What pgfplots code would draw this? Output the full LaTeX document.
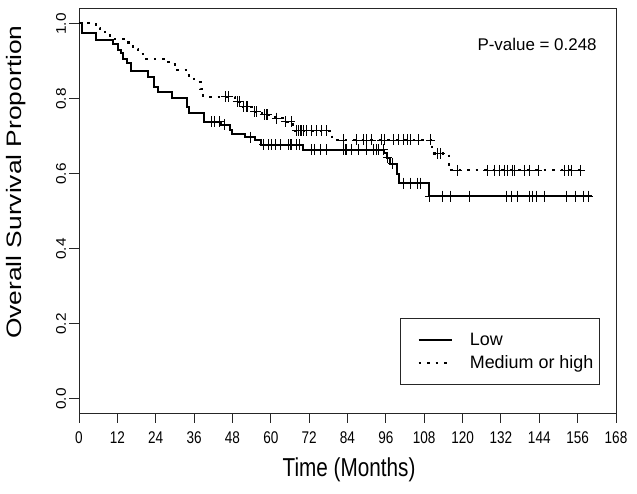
\documentclass[border=0pt]{standalone}
\usepackage{fontspec}
\setmainfont{Liberation Sans}
\newfontfamily\xnarrow[FakeStretch=0.8]{Liberation Sans}
\newfontfamily\ywide[FakeStretch=1.1]{Liberation Sans}
\newfontfamily\ylabfont[FakeStretch=1.26]{Liberation Sans}
\usepackage{pgfplots}
\pgfplotsset{compat=1.18}
\begin{document}
\begin{tikzpicture}
\path[use as bounding box] (-79bp,-81bp) rectangle (558bp,413bp);
\begin{axis}[
  at={(0,0)}, anchor=south west,
  scale only axis, width=537bp, height=405bp,
  xmin=0, xmax=168, ymin=-0.04, ymax=1.04,
  xtick={0,12,...,168}, ytick={0,0.2,0.4,0.6,0.8,1.0},
  yticklabel={\pgfmathprintnumber[fixed,fixed zerofill,precision=1]{\tick}},
  /pgf/number format/assume math mode=true,
  tick pos=left, tick align=outside,
  major tick length=9.5bp,
  axis line style={line width=0.9bp, black!85},
  tick style={line width=0.9bp, black!85},
  xticklabel style={font=\xnarrow\fontsize{17}{17}\selectfont, yshift=-6bp},
  yticklabel style={font=\ywide\fontsize{14}{14}\selectfont, rotate=90, anchor=south, xshift=-1bp},
  xlabel={Time (Months)},
  ylabel={Overall Survival Proportion},
  xlabel style={font=\xnarrow\fontsize{26}{26}\selectfont, at={(axis description cs:0.503,-0.14)}, anchor=center},
  ylabel style={font=\ylabfont\fontsize{21}{21}\selectfont, at={(axis description cs:-0.117,0.57)}, anchor=center, rotate=0},
  legend cell align=left,
  legend image code/.code={\path (0bp,0bp); \draw[#1] (11bp,0bp) -- (44bp,0bp);},
  legend style={at={(rel axis cs:0.598,0.2346)}, anchor=north west,
    draw=black!85, line width=1bp, font=\fontsize{18}{20}\selectfont,
    inner xsep=6bp, inner ysep=14.5bp, row sep=9bp,
    nodes={inner sep=0pt},
    /tikz/every odd column/.append style={column sep=17bp}},
]
% Low
\addplot[const plot, black, line width=2bp] coordinates {
(0,1.0) (0.8,0.973) (5.2,0.955) (10.5,0.943) (12.3,0.929) (13.1,0.919) (13.9,0.905)
(14.9,0.892) (16.3,0.872) (21.6,0.857) (23.5,0.83) (24.8,0.817) (29,0.799) (33.7,0.777)
(34.5,0.759) (39.1,0.737) (44.3,0.728) (47.2,0.715) (48,0.704) (52,0.695) (55,0.688)
(57,0.675) (70.2,0.662) (95.4,0.652) (96.3,0.641) (97.4,0.625) (99.4,0.598) (100,0.573)
(109.4,0.538) (160.6,0.538)};
\addlegendentry{Low}
% Medium or high
\addplot[const plot, black, line width=2.2bp, dash pattern=on 2.5bp off 6bp] coordinates {
(0,1.0) (5.2,0.987) (6.5,0.98) (8.2,0.972) (9.7,0.957) (15.5,0.944) (17,0.931) (18.5,0.918)
(20,0.905) (28,0.89) (30,0.874) (34,0.86) (36,0.843) (38,0.825) (38.9,0.803) (48.8,0.79)
(50.9,0.777) (54,0.763) (57.2,0.755) (61.4,0.746) (64.5,0.737) (67,0.713) (79.1,0.688)
(110.5,0.652) (115.7,0.607) (157.3,0.607)};
\addlegendentry{Medium or high}
% censor marks, Low
\addplot[only marks, mark=+, mark size=5.5bp, mark options={xscale=0.8}, black, line width=0.8bp, forget plot] coordinates {
(41.5,0.737) (42.5,0.737) (44,0.737) (45.5,0.728) (53.5,0.695)
(57.7,0.675) (59.2,0.675) (60.3,0.675) (61.3,0.675) (62.9,0.675) (65.5,0.675) (66,0.675) (66.6,0.675) (68.1,0.675) (69.1,0.675)
(72.8,0.662) (73.8,0.662) (75.4,0.662) (77.5,0.662) (82.7,0.662) (83.2,0.662) (83.8,0.662) (85.3,0.662) (87.4,0.662) (90,0.662) (92.1,0.662) (93.1,0.662) (93.7,0.662) (95.2,0.662)
(96.5,0.641) (98,0.625)
(101.5,0.573) (103.6,0.573) (105.8,0.573) (106.7,0.573)
(109.7,0.538) (113.6,0.538) (116.3,0.538) (122.1,0.538) (133.6,0.538) (135.2,0.538) (137.3,0.538) (141.0,0.538) (142.0,0.538) (143.1,0.538) (145.7,0.538) (152.6,0.538) (155.2,0.538) (157.8,0.538) (159.4,0.538)};
% censor marks, Medium or high
\addplot[only marks, mark=+, mark size=5.5bp, mark options={xscale=0.8}, black, line width=0.8bp, forget plot] coordinates {
(45.8,0.803) (46.8,0.803) (49.5,0.79) (50.2,0.79) (51.5,0.777) (52.3,0.777) (52.8,0.777)
(55,0.763) (55.6,0.763) (58,0.755) (58.6,0.755) (59,0.755) (61.8,0.746) (64.5,0.737) (66.3,0.737)
(68.1,0.713) (68.6,0.713) (69.2,0.713) (69.7,0.713) (70.2,0.713) (71.2,0.713) (72.8,0.713) (74.4,0.713) (75.9,0.713) (77.5,0.713)
(82.6,0.688) (86.9,0.688) (88.9,0.688) (90,0.688) (91.6,0.688) (94.7,0.688) (95.5,0.688) (98.3,0.688) (99.9,0.688) (101.5,0.688) (102.6,0.688) (103.7,0.688) (106.3,0.688) (109.9,0.688)
(112,0.652) (113.1,0.652)
(118.4,0.607) (127.8,0.607) (129.9,0.607) (131.5,0.607) (133.1,0.607) (134.1,0.607) (135.7,0.607) (136.3,0.607) (139.4,0.607) (141,0.607) (143.6,0.607) (152,0.607) (153.1,0.607) (154.1,0.607) (156.8,0.607)};
\node[font=\fontsize{17}{17}\selectfont, anchor=center] at (rel axis cs:0.853,0.909) {P-value = 0.248};
\end{axis}
\end{tikzpicture}
\end{document}
